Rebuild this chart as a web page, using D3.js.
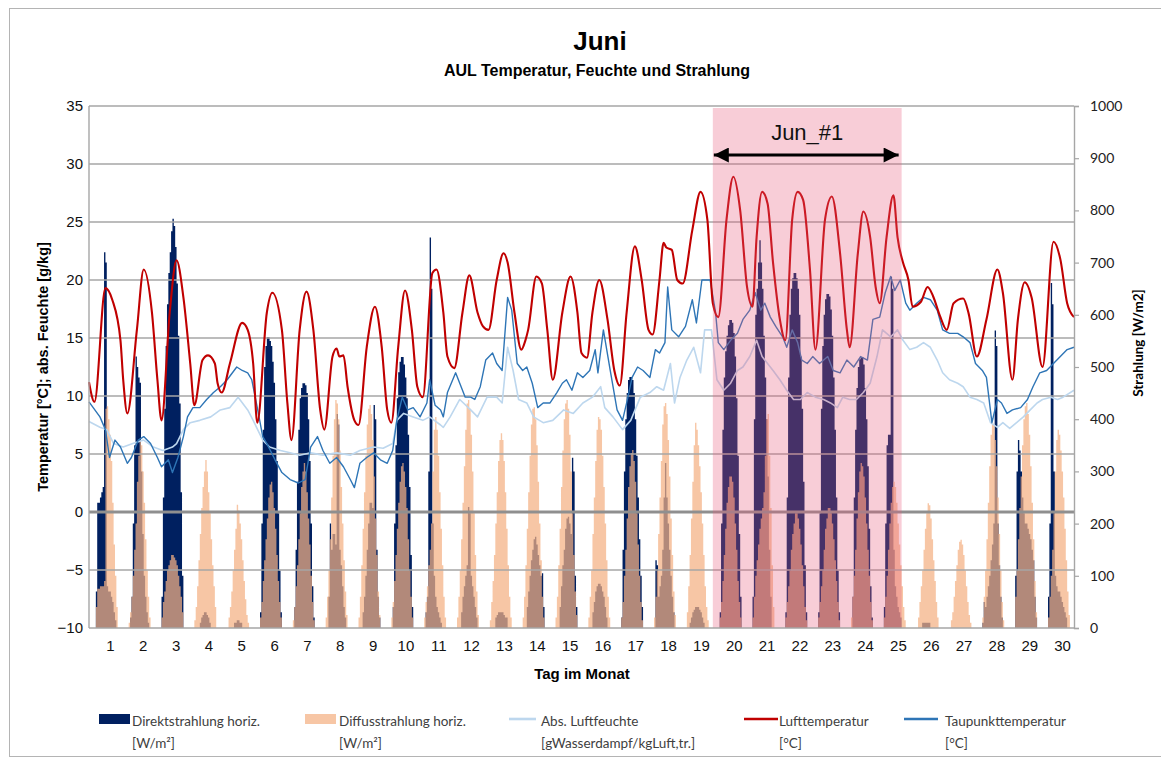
<!DOCTYPE html>
<html>
<head>
<meta charset="utf-8">
<script src="https://cdn.jsdelivr.net/npm/d3@7"></script>
<style>
  body { margin: 0; background: #fff; }
  text { font-family: "Liberation Sans", Arial, sans-serif; }
</style>
</head>
<body>
<script>
// ---- data ----
var days = d3.range(1, 31);
var sunHours = d3.range(5, 21); // hours 5..20 of each day

// Direktstrahlung horiz. [W/m2], one row per day, hours 5..20
var direct = [
  [70,240,240,250,260,270,720,700,80,70,70,60,50,30,15,0],
  [0,20,60,200,350,520,500,480,470,300,180,100,60,30,10,0],
  [60,250,420,540,620,680,720,760,784,770,730,660,560,430,260,100],
  [0,0,0,0,10,20,25,30,30,25,20,10,0,0,0,0],
  [0,0,0,0,0,10,10,15,15,10,10,0,0,0,0,0],
  [30,200,380,500,540,557,557,550,540,510,470,400,320,220,110,30],
  [0,40,150,280,380,440,460,469,469,465,450,400,320,200,80,20],
  [0,0,60,200,150,180,180,160,410,390,150,120,80,40,20,0],
  [0,0,0,30,60,100,150,200,240,240,230,427,400,150,60,20],
  [0,40,200,350,440,490,510,519,519,505,480,440,370,270,140,40],
  [0,30,60,300,748,650,200,100,60,40,30,20,10,0,0,0],
  [0,0,0,30,60,80,100,120,232,220,100,80,60,40,20,0],
  [0,0,0,0,20,25,30,30,30,30,25,20,20,0,0,0],
  [0,0,0,40,70,100,130,150,170,175,160,140,120,100,105,40],
  [0,0,0,40,80,120,150,190,210,213,200,180,326,300,100,40],
  [0,0,0,30,50,70,80,85,85,80,70,60,40,20,0,0],
  [20,150,300,400,450,475,481,481,475,450,400,330,250,170,100,40],
  [0,130,120,60,80,100,150,250,316,250,200,150,100,60,30,0],
  [0,0,10,20,30,35,40,40,40,35,30,20,10,0,0,0],
  [30,200,380,480,530,560,580,590,590,585,565,520,440,330,180,60],
  [60,400,600,650,700,743,700,650,560,480,400,290,150,60,0,0],
  [30,250,480,600,650,670,680,680,670,650,600,520,420,280,120,30],
  [30,220,420,540,600,630,640,640,635,610,560,480,380,250,110,30],
  [0,60,250,380,460,500,515,519,519,505,460,400,310,190,80,20],
  [40,200,350,370,370,673,650,150,80,60,40,30,20,0,0,0],
  [0,0,0,0,10,10,10,10,10,10,0,0,0,0,0,0],
  [0,0,0,0,0,0,0,0,0,0,0,0,0,0,0,0],
  [10,50,40,60,80,100,130,160,200,570,540,200,120,60,20,0],
  [100,300,360,340,300,250,220,200,200,190,180,170,150,130,60,20],
  [60,200,661,620,300,100,80,70,70,60,50,40,30,20,0,0]
];

// Diffusstrahlung horiz. [W/m2], hours 5..20
var diffuse = [
  [40,75,75,80,80,80,90,420,425,400,370,320,240,160,100,40],
  [10,30,60,100,150,200,280,330,360,350,300,240,170,110,60,20],
  [20,50,70,90,110,120,130,140,140,135,130,120,100,80,60,30],
  [15,40,80,130,180,230,270,300,322,300,260,220,170,120,80,40],
  [0,20,40,70,110,150,190,236,225,200,170,130,90,55,25,10],
  [20,50,90,130,170,210,250,275,280,260,230,190,140,90,50,20],
  [15,40,80,120,170,220,270,300,316,300,260,210,160,100,50,15],
  [20,60,110,170,250,330,400,437,430,400,340,270,200,130,70,25],
  [20,60,120,190,260,330,390,420,427,410,360,290,210,140,70,25],
  [20,50,90,140,190,240,280,310,316,300,270,230,170,110,60,20],
  [20,50,80,120,150,200,300,380,404,380,330,260,190,120,60,20],
  [20,60,110,170,240,310,380,430,437,420,370,300,220,140,70,25],
  [15,50,90,140,200,260,320,360,373,360,320,260,190,120,60,20],
  [20,60,120,190,260,330,390,420,423,400,350,280,200,130,60,20],
  [20,60,120,190,270,340,400,430,437,420,370,300,220,140,70,25],
  [20,60,110,180,250,320,380,404,400,380,330,270,200,130,60,20],
  [20,50,100,150,210,270,310,335,341,320,280,220,160,100,50,15],
  [20,60,110,180,250,320,390,425,431,410,360,290,210,140,70,25],
  [30,80,140,210,280,350,393,380,350,310,260,200,140,80,40,15],
  [20,50,90,140,190,240,270,290,290,280,250,200,150,90,50,20],
  [20,60,100,130,160,190,210,230,260,330,400,410,330,230,120,40],
  [20,50,80,110,150,180,200,220,220,210,190,160,120,80,40,15],
  [20,50,80,110,150,190,210,230,230,220,200,170,130,90,50,15],
  [20,60,100,150,210,260,300,316,310,290,250,200,150,100,50,15],
  [20,60,100,150,200,240,270,280,270,240,200,160,120,80,40,15],
  [0,20,50,80,110,150,190,220,239,235,210,170,130,90,50,20],
  [0,15,30,60,90,120,150,165,169,160,140,110,80,50,25,10],
  [20,60,110,170,240,310,370,393,390,360,310,250,180,110,50,15],
  [60,110,170,230,290,350,400,425,431,410,370,310,240,170,90,30],
  [20,60,100,150,220,300,360,380,370,340,300,250,190,130,70,25]
];

// Lufttemperatur [°C] as [hour of month, value]
var lufttemp = [[0,11.2],[4,9.5],[12,19.3],[17,18.3],[23,14.8],[25,11.4],[28,8.5],[35,15.7],[40,20.9],[46,17.2],[50,11.4],[53,7.9],[59,17.2],[64,21.7],[69,18.5],[74,12.8],[77,9.2],[83,13.1],[87,13.5],[92,12.8],[94,11.1],[97,10.3],[103,12.8],[112,16.3],[116,15.7],[120,12.8],[123,7.7],[130,17.2],[134,18.9],[141,15.7],[145,9.4],[148,6.2],[154,15.7],[159,19.0],[164,15.7],[169,8.8],[172,7.1],[178,13.4],[181,14.1],[183,13.4],[186,13.5],[189,10.8],[194,7.9],[197,7.5],[203,14.2],[209,17.7],[214,14.2],[218,8.8],[221,7.7],[226,14.2],[231,19.1],[236,15.7],[240,10.8],[244,9.9],[251,20.6],[254,20.9],[259,17.2],[262,13.4],[267,12.4],[273,17.2],[278,20.4],[284,17.2],[288,16.0],[292,15.7],[298,20.0],[303,22.3],[306,21.5],[311,17.2],[316,14.0],[319,14.8],[321,15.7],[327,20.3],[331,19.7],[335,15.7],[339,11.4],[346,17.2],[352,20.3],[357,17.2],[360,13.7],[364,13.3],[368,17.2],[373,20.0],[379,16.6],[384,12.2],[388,10.9],[393,17.2],[399,22.9],[404,20.0],[409,15.7],[412,15.3],[417,20.0],[420,23.2],[422,22.8],[426,22.6],[430,20.0],[434,19.7],[441,24.3],[447,27.6],[452,25.2],[456,18.0],[460,16.8],[466,25.2],[471,28.9],[476,26.0],[481,19.4],[485,17.7],[488,23.7],[492,27.6],[496,26.6],[500,21.5],[505,16.6],[509,14.8],[514,25.2],[518,27.6],[522,26.9],[527,20.9],[531,14.0],[538,25.2],[543,27.2],[549,22.3],[554,15.7],[556,14.2],[562,22.3],[566,25.9],[571,23.7],[575,19.4],[578,18.0],[583,23.7],[588,27.3],[591,23.7],[595,21.5],[599,20.0],[602,17.7],[608,18.1],[613,19.4],[617,18.6],[622,16.9],[627,15.7],[632,18.0],[639,18.4],[643,17.1],[649,13.4],[656,16.6],[664,20.9],[668,18.9],[675,11.4],[679,16.6],[684,19.8],[689,18.5],[697,12.5],[705,23.3],[710,21.8],[715,18.0],[720,16.8]];

// Taupunkttemperatur [°C]
var taupunkt = [[0,9.5],[8,8.2],[12,7.1],[15,4.7],[19,6.2],[23,5.6],[28,4.2],[31,4.7],[36,6.2],[40,6.5],[45,5.9],[50,4.7],[53,3.9],[58,4.5],[61,3.4],[65,4.7],[69,6.5],[72,8.2],[76,9.0],[81,9.0],[86,9.7],[91,10.3],[96,10.8],[101,11.4],[108,12.5],[112,12.2],[116,12.0],[119,11.4],[123,9.0],[127,6.5],[130,5.9],[136,4.5],[141,3.4],[147,2.8],[153,2.5],[158,2.8],[162,5.6],[167,6.5],[171,5.3],[176,4.2],[181,4.7],[186,3.9],[191,2.8],[194,2.1],[198,4.2],[203,4.7],[208,5.1],[213,4.5],[218,4.2],[222,5.3],[225,7.9],[229,9.9],[233,8.8],[237,9.0],[242,8.2],[247,9.4],[249,11.4],[253,9.2],[257,8.8],[259,8.2],[262,10.3],[268,12.0],[271,11.1],[275,9.9],[279,9.9],[282,9.7],[286,10.8],[290,13.1],[295,13.7],[298,12.8],[302,12.2],[306,18.5],[309,17.4],[313,12.8],[317,12.2],[320,12.5],[324,11.1],[328,9.0],[332,9.4],[337,9.4],[342,10.3],[346,11.1],[349,11.4],[353,10.5],[357,12.0],[361,11.6],[366,12.2],[370,14.0],[372,12.0],[376,15.7],[381,12.2],[386,8.8],[390,7.9],[393,9.4],[397,11.6],[401,12.5],[405,12.2],[410,11.6],[414,14.0],[417,13.7],[421,14.6],[423,19.4],[426,15.7],[431,15.1],[436,16.0],[441,18.3],[444,16.3],[448,20.0],[454,20.0],[458,17.2],[460,14.6],[464,14.0],[469,14.8],[474,15.4],[478,16.6],[483,17.4],[487,18.9],[491,17.4],[494,18.0],[498,16.8],[502,16.0],[507,15.1],[510,14.2],[514,15.7],[518,14.6],[521,13.1],[525,12.8],[529,13.4],[534,12.8],[540,13.4],[544,12.2],[549,12.0],[554,13.1],[559,12.5],[564,13.4],[569,13.1],[573,16.6],[578,16.8],[582,18.9],[586,20.3],[589,19.1],[593,20.0],[597,18.0],[600,17.4],[605,18.0],[610,18.5],[615,18.3],[620,17.4],[624,15.7],[629,15.4],[635,15.4],[639,15.1],[644,14.6],[648,12.8],[653,12.2],[656,11.6],[660,7.7],[664,9.7],[667,9.4],[671,8.5],[675,8.8],[681,9.0],[686,9.7],[690,10.8],[695,12.0],[700,12.2],[705,12.8],[710,13.4],[715,14.0],[720,14.2]];

// Abs. Luftfeuchte [g/kg]
var absFeuchte = [[0,7.8],[8,7.3],[13,7.1],[18,5.9],[25,5.6],[32,5.9],[40,6.2],[47,5.6],[54,5.3],[61,5.6],[64,5.9],[69,7.1],[74,7.7],[81,7.9],[89,8.2],[96,8.8],[103,9.0],[109,9.9],[116,8.8],[120,7.9],[127,6.2],[132,5.6],[140,5.3],[147,5.1],[154,4.9],[162,5.1],[171,4.9],[181,5.1],[191,4.9],[198,5.3],[208,5.6],[215,5.5],[222,5.9],[225,7.9],[230,8.5],[237,8.2],[244,7.9],[249,8.2],[257,7.5],[259,7.3],[264,8.2],[271,9.7],[279,8.8],[284,8.2],[291,9.9],[298,9.9],[302,9.4],[306,14.2],[310,12.2],[314,9.7],[320,9.4],[325,8.2],[332,7.7],[339,7.9],[347,8.8],[354,8.5],[361,9.4],[368,9.9],[374,10.8],[377,9.0],[383,8.2],[390,7.1],[396,7.9],[403,9.9],[410,10.3],[415,10.8],[420,10.5],[425,12.8],[428,9.4],[432,11.6],[437,13.1],[442,14.2],[447,12.0],[450,15.7],[455,15.7],[459,11.4],[464,10.5],[469,11.1],[474,12.2],[478,12.5],[483,13.4],[488,14.8],[492,13.4],[496,12.8],[500,12.2],[505,11.4],[510,10.5],[515,9.7],[520,9.7],[525,10.3],[531,9.9],[537,9.7],[542,9.4],[547,9.0],[551,9.9],[556,9.7],[561,9.7],[566,10.3],[571,11.1],[576,13.4],[580,15.7],[586,15.1],[591,15.7],[595,14.8],[600,14.0],[605,14.2],[610,14.6],[615,14.2],[620,13.1],[624,12.0],[629,11.4],[635,11.1],[639,10.8],[644,9.9],[649,9.7],[654,9.4],[659,7.7],[664,7.3],[668,7.7],[673,7.2],[678,7.7],[683,8.2],[688,8.8],[693,9.4],[697,9.7],[703,9.9],[708,9.7],[712,9.9],[720,10.5]];

var tempTicks = d3.range(-10, 36, 5);
var radTicks = d3.range(0, 1001, 100);
var period = { start: 456, end: 594, label: 'Jun_#1' };

var legendItems = [
  { key: 'direct', l1: 'Direktstrahlung horiz.', l2: '[W/m\u00b2]' },
  { key: 'diffuse', l1: 'Diffusstrahlung horiz.', l2: '[W/m\u00b2]' },
  { key: 'abs', l1: 'Abs. Luftfeuchte', l2: '[gWasserdampf/kgLuft,tr.]' },
  { key: 'temp', l1: 'Lufttemperatur', l2: '[\u00b0C]' },
  { key: 'dew', l1: 'Taupunkttemperatur', l2: '[\u00b0C]' }
];

// ---- drawing ----
var cols = {
  direct: '#002060',
  diffuse: '#f4b183',
  abs: '#bdd7ee',
  temp: '#c00000',
  dew: '#2e75b6'
};

var svg = d3.select('body').append('svg')
  .attr('width', 1161)
  .attr('height', 760);

svg.append('rect')
  .attr('x', 9.5).attr('y', 8.5)
  .attr('width', 1160).attr('height', 748)
  .attr('fill', '#fff')
  .attr('stroke', '#b4b4b4');

var margin = { top: 106, right: 87, bottom: 132, left: 89 },
  width = 1161 - margin.left - margin.right,
  height = 760 - margin.top - margin.bottom;

var g = svg.append('g').attr('transform', 'translate(' + margin.left + ',' + margin.top + ')');

var x = d3.scaleLinear().domain([0, 720]).range([0, width]);
var yT = d3.scaleLinear().domain([-10, 35]).range([height, 0]);
var yR = d3.scaleLinear().domain([0, 1000]).range([height, 0]);

function hourly(rows) {
  var out = [];
  days.forEach(function (d, i) {
    for (var h = 0; h < 24; h++) {
      var j = sunHours.indexOf(h);
      out.push({ t: i * 24 + h, v: j < 0 ? 0 : rows[i][j] });
    }
  });
  out.push({ t: 720, v: 0 });
  return out;
}

var bars = d3.area()
  .curve(d3.curveStepAfter)
  .x(function (d) { return x(d.t); })
  .y0(yR(0))
  .y1(function (d) { return yR(d.v); });

g.append('path')
  .attr('d', bars(hourly(direct)))
  .attr('fill', cols.direct);

g.append('path')
  .attr('d', bars(hourly(diffuse)))
  .attr('fill', cols.diffuse)
  .attr('fill-opacity', 0.73);

// grid lines
g.append('g')
  .selectAll('line')
  .data(tempTicks.filter(function (d) { return d > -10; }))
  .enter().append('line')
  .attr('x1', 0).attr('x2', width)
  .attr('y1', function (d) { return yT(d); })
  .attr('y2', function (d) { return yT(d); })
  .attr('stroke', function (d) { return d === 0 ? '#8f8f8f' : '#a6a6a6'; })
  .attr('stroke-width', function (d) { return d === 0 ? 2.8 : 1.4; });

function lineOf(curve) {
  return d3.line()
    .curve(curve)
    .x(function (d) { return x(d[0]); })
    .y(function (d) { return yT(d[1]); });
}

g.append('path')
  .attr('d', lineOf(d3.curveLinear)(absFeuchte))
  .attr('fill', 'none')
  .attr('stroke', cols.abs)
  .attr('stroke-width', 1.6)
  .attr('stroke-linejoin', 'round');

g.append('path')
  .attr('d', lineOf(d3.curveLinear)(taupunkt))
  .attr('fill', 'none')
  .attr('stroke', cols.dew)
  .attr('stroke-width', 1.4)
  .attr('stroke-linejoin', 'round');

g.append('path')
  .attr('d', lineOf(d3.curveMonotoneX)(lufttemp))
  .attr('fill', 'none')
  .attr('stroke', cols.temp)
  .attr('stroke-width', 2.1)
  .attr('stroke-linejoin', 'round');

// highlighted period
g.append('rect')
  .attr('x', x(period.start))
  .attr('y', 2)
  .attr('width', x(period.end) - x(period.start))
  .attr('height', height - 2)
  .attr('fill', 'rgb(232,88,122)')
  .attr('fill-opacity', 0.3);

var defs = svg.append('defs');
defs.append('marker')
  .attr('id', 'ah')
  .attr('viewBox', '0 0 10 10')
  .attr('refX', 10).attr('refY', 5)
  .attr('markerUnits', 'userSpaceOnUse')
  .attr('markerWidth', 16).attr('markerHeight', 15)
  .attr('orient', 'auto-start-reverse')
  .append('path')
  .attr('d', 'M0,0L10,5L0,10Z')
  .attr('fill', '#000');

g.append('line')
  .attr('x1', x(period.start) + 1)
  .attr('x2', x(period.end) - 3)
  .attr('y1', 49).attr('y2', 49)
  .attr('stroke', '#000')
  .attr('stroke-width', 3)
  .attr('marker-start', 'url(#ah)')
  .attr('marker-end', 'url(#ah)');

g.append('text')
  .attr('x', (x(period.start) + x(period.end)) / 2)
  .attr('y', 34)
  .style('text-anchor', 'middle')
  .style('font-size', '22px')
  .attr('fill', '#111')
  .text(period.label);

// axes frame
g.append('line')
  .attr('x1', 0).attr('x2', width).attr('y1', height).attr('y2', height)
  .attr('stroke', '#a6a6a6').attr('stroke-width', 1.4);
g.append('line')
  .attr('x1', 0).attr('x2', 0).attr('y1', 0).attr('y2', height)
  .attr('stroke', '#a6a6a6').attr('stroke-width', 1.4);

var left = g.append('g')
  .call(d3.axisLeft(yT).tickValues(tempTicks).tickSize(0).tickPadding(6));
left.select('.domain').remove();
left.selectAll('text')
  .style('font-size', '15px')
  .attr('fill', '#111');

var right = g.append('g')
  .attr('transform', 'translate(' + width + ',0)')
  .call(d3.axisRight(yR).tickValues(radTicks).tickFormat(d3.format('d')).tickSize(5).tickPadding(11));
right.select('.domain').attr('stroke', '#a6a6a6').attr('stroke-width', 1.4);
right.selectAll('line').attr('stroke', '#a6a6a6').attr('stroke-width', 1.2);
right.selectAll('text')
  .style('font-family', 'Lato, "Open Sans", sans-serif')
  .style('font-size', '14px')
  .attr('fill', '#222');

var bottom = g.append('g')
  .attr('transform', 'translate(0,' + height + ')')
  .call(d3.axisBottom(x)
    .tickValues(days.map(function (d) { return (d - 1) * 24 + 15.3; }))
    .tickFormat(function (v, i) { return days[i]; })
    .tickSize(0).tickPadding(12));
bottom.select('.domain').remove();
bottom.selectAll('text')
  .style('font-size', '15px')
  .attr('fill', '#111');

// titles
svg.append('text')
  .attr('x', 600).attr('y', 50)
  .style('text-anchor', 'middle')
  .style('font-weight', 'bold')
  .style('font-size', '26px')
  .text('Juni');

svg.append('text')
  .attr('x', 597).attr('y', 76)
  .style('text-anchor', 'middle')
  .style('font-weight', 'bold')
  .style('font-size', '16px')
  .text('AUL Temperatur, Feuchte und Strahlung');

svg.append('text')
  .attr('transform', 'translate(48,367) rotate(-90)')
  .style('text-anchor', 'middle')
  .style('font-weight', 'bold')
  .style('font-size', '14.5px')
  .text('Temperatur [\u00b0C]; abs. Feuchte [g/kg]');

svg.append('text')
  .attr('transform', 'translate(1143,343) rotate(-90)')
  .style('text-anchor', 'middle')
  .style('font-family', 'Lato, "Open Sans", sans-serif')
  .style('font-weight', 'bold')
  .style('font-size', '13.5px')
  .text('Strahlung [W/m2]');

svg.append('text')
  .attr('x', 582).attr('y', 679)
  .style('text-anchor', 'middle')
  .style('font-weight', 'bold')
  .style('font-size', '15px')
  .text('Tag im Monat');

// legend
var legX = [99, 305, 509, 744, 904];
var legend = svg.append('g')
  .selectAll('g')
  .data(legendItems)
  .enter().append('g')
  .attr('transform', function (d, i) { return 'translate(' + legX[i] + ',0)'; });

legend.each(function (d) {
  var el = d3.select(this);
  if (d.key === 'direct' || d.key === 'diffuse') {
    el.append('rect')
      .attr('x', 0).attr('y', 714)
      .attr('width', 31).attr('height', 10)
      .attr('fill', cols[d.key])
      .attr('fill-opacity', d.key === 'diffuse' ? 0.73 : 1);
  } else {
    el.append('line')
      .attr('x1', 0).attr('x2', d.key === 'abs' ? 27 : 34)
      .attr('y1', 719).attr('y2', 719)
      .attr('stroke', cols[d.key])
      .attr('stroke-width', 2.6);
  }
});

var textX = [132, 339, 541, 779, 945];
legend.append('text')
  .attr('x', function (d, i) { return textX[i] - legX[i]; })
  .attr('y', 726)
  .style('font-family', 'Lato, "Open Sans", sans-serif')
  .style('font-size', '13.5px')
  .attr('fill', '#404040')
  .text(function (d) { return d.l1; });

legend.append('text')
  .attr('x', function (d, i) { return textX[i] - legX[i]; })
  .attr('y', 748)
  .style('font-family', 'Lato, "Open Sans", sans-serif')
  .style('font-size', '13.5px')
  .attr('fill', '#404040')
  .text(function (d) { return d.l2; });
</script>
</body>
</html>
